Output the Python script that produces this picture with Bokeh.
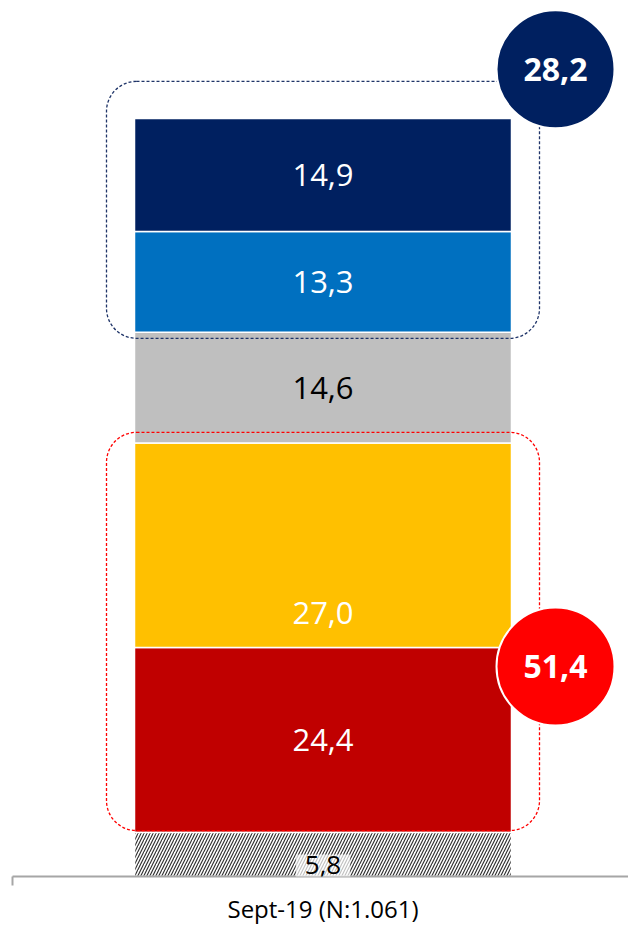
from bokeh.plotting import figure
from bokeh.models import Range1d, LinearAxis, FixedTicker, BoxAnnotation, Label, ColumnDataSource
from bokeh.core.properties import value
from bokeh.embed import file_html
from bokeh.resources import INLINE

# ---------------- data ----------------
CATEGORY = "Sept-19 (N:1.061)"
SEGMENTS = ["NS/NC", "Muy mala", "Mala", "Regular", "Buena", "Muy buena"]
VALUES = [5.8, 24.4, 27.0, 14.6, 13.3, 14.9]
TOTAL_LABELS = ["51,4", "28,2"]          # red group (segments 1-2), navy group (segments 4-5)

# ---------------- style ----------------
COLORS = ["#FFFFFF", "#C00000", "#FFC000", "#BFBFBF", "#0070C0", "#002060"]
TEXT_COLORS = ["#000000", "#FFFFFF", "#FFFFFF", "#000000", "#FFFFFF", "#FFFFFF"]
LABEL_POS = [0.5, 0.5, 0.17, 0.5, 0.5, 0.5]   # relative position of label inside segment
FONT = "Open Sans"

PX_Y = 7.58      # pixels per percentage point
PX_X = 377.0     # pixels per bar width
FRAME_L = 12
FRAME_W = 628 - FRAME_L
FRAME_H = 876
bar_center_px = 322.5 - FRAME_L
x0 = -bar_center_px / PX_X
x1 = (FRAME_W - bar_center_px) / PX_X

p = figure(frame_width=FRAME_W, frame_height=FRAME_H, output_backend="svg",
           toolbar_location=None,
           x_range=Range1d(x0, x1), y_range=Range1d(0, FRAME_H / PX_Y),
           x_axis_type=None, y_axis_type=None,
           min_border_left=FRAME_L, min_border_right=0, min_border_top=0,
           min_border_bottom=0)
p.outline_line_color = None
p.xgrid.visible = False
p.ygrid.visible = False
p.background_fill_color = "white"

# stacked segments
bottoms, tops = [], []
acc = 0.0
for v in VALUES:
    bottoms.append(acc)
    acc += v
    tops.append(acc)

src = ColumnDataSource(dict(x=[0.0] * len(VALUES), bottom=bottoms, top=tops,
                            color=COLORS, seg=SEGMENTS))
p.vbar(x="x", bottom="bottom", top="top", width=1.0, fill_color="color",
       line_color="white", line_width=1.5, source=src)
# hatched first segment
p.vbar(x=[0.0], bottom=[bottoms[0]], top=[tops[0]], width=1.0,
       fill_color="white", line_color="white", line_width=1.5,
       hatch_pattern="/", hatch_color="#333333", hatch_scale=6, hatch_weight=1.2)

# segment labels
lab_y = [b + f * v for b, f, v in zip(bottoms, LABEL_POS, VALUES)]
lab_t = [f"{v:.1f}".replace(".", ",") for v in VALUES]
for i in range(1, len(VALUES)):
    p.text(x=[0.0], y=[lab_y[i]], text=[lab_t[i]], text_align="center",
           text_baseline="middle", text_font=value(FONT), text_font_size="31px",
           text_color=TEXT_COLORS[i])
p.add_layout(Label(x=0.0, y=lab_y[0], y_offset=-13, text=lab_t[0], text_align="center",
                   text_baseline="middle", text_font=FONT, text_font_size="26px",
                   text_color="#000000", background_fill_color="white",
                   background_fill_alpha=0.7,
                   padding=dict(left=9, right=9, top=1, bottom=7)))

# group boxes
pad_x = 28.0 / PX_X
red_box = BoxAnnotation(left=-0.5 - pad_x, right=0.5 + pad_x,
                        bottom=tops[0] + 0.26, top=tops[2] + 1.4,
                        fill_color=None, fill_alpha=0, line_color="#FF0000",
                        line_alpha=1.0, line_dash="3 2", line_width=1.3,
                        border_radius=30)
navy_box = BoxAnnotation(left=-0.5 - pad_x, right=0.5 + pad_x,
                         bottom=tops[3] - 0.8, top=tops[5] + 4.9,
                         fill_color=None, fill_alpha=0, line_color="#1F3468",
                         line_alpha=1.0, line_dash="3 2", line_width=1.3,
                         border_radius=30)
p.add_layout(red_box)
p.add_layout(navy_box)

# total circles
cx = 0.5 + 44.0 / PX_X
circ_y = [tops[0] + 21.9, tops[5] + 6.5]
circ_col = ["#FF0000", "#002060"]
p.scatter(x=[cx, cx], y=circ_y, size=118, marker="circle", fill_color=circ_col,
          line_color="white", line_width=2, level="overlay")
p.text(x=[cx, cx], y=circ_y, text=TOTAL_LABELS, text_align="center",
       text_baseline="middle", text_font=value(FONT), text_font_size="32px",
       text_font_style="bold", text_color="white", level="overlay")

# category axis
ax = LinearAxis(ticker=FixedTicker(ticks=[0.0], minor_ticks=[x0 + 1e-6]),
                major_label_overrides={0: CATEGORY})
ax.axis_line_color = "#A6A6A6"
ax.axis_line_width = 2
ax.major_tick_line_color = None
ax.major_tick_out = 0
ax.major_tick_in = 0
ax.minor_tick_line_color = "#A6A6A6"
ax.minor_tick_line_width = 2
ax.minor_tick_out = 9
ax.minor_tick_in = 0
ax.major_label_text_font = FONT
ax.major_label_text_font_size = "24px"
ax.major_label_text_color = "#000000"
ax.major_label_standoff = 6
p.add_layout(ax, "below")

open("out.html", "w").write(file_html(p, INLINE))
